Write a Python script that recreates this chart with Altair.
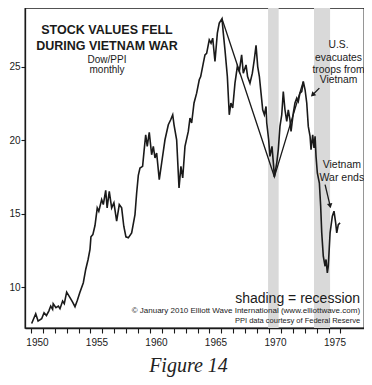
import altair as alt
import pandas as pd

# Dow/PPI monthly ratio
years = [1950.06, 1950.40, 1950.60, 1950.90, 1951.10, 1951.30, 1951.50, 1951.66, 1951.82, 1951.87,
         1952.10, 1952.30, 1952.44, 1952.66, 1952.80, 1953.00, 1953.28, 1953.50, 1953.70, 1953.90,
         1954.10, 1954.40, 1954.60, 1954.80, 1954.96, 1955.04, 1955.20, 1955.38, 1955.57, 1955.70,
         1955.94, 1956.08, 1956.28, 1956.40, 1956.58, 1956.78, 1956.97, 1957.20, 1957.42, 1957.62,
         1957.80, 1957.98, 1958.18, 1958.46, 1958.74, 1958.88, 1959.02, 1959.16, 1959.38, 1959.50,
         1959.64, 1959.77, 1959.94, 1960.14, 1960.28, 1960.42, 1960.56, 1960.78, 1960.98, 1961.26,
         1961.54, 1961.74, 1961.91, 1962.02, 1962.24, 1962.44, 1962.60, 1962.75, 1962.94, 1963.22,
         1963.36, 1963.50, 1963.70, 1963.92, 1964.14, 1964.26, 1964.48, 1964.62, 1964.76, 1964.98,
         1965.13, 1965.27, 1965.46, 1965.66, 1965.82, 1966.05, 1966.16, 1966.30, 1966.50, 1966.66,
         1966.80, 1966.95, 1967.14, 1967.34, 1967.50, 1967.70, 1967.84, 1968.07, 1968.20, 1968.40,
         1968.60, 1968.76, 1968.91, 1969.05, 1969.19, 1969.33, 1969.47, 1969.61, 1969.75, 1969.81,
         1969.97, 1970.08, 1970.25, 1970.39, 1970.45, 1970.65, 1970.78, 1970.92, 1971.07, 1971.20,
         1971.34, 1971.49, 1971.62, 1971.76, 1971.85, 1972.04, 1972.18, 1972.33, 1972.46, 1972.60,
         1972.75, 1972.88, 1973.03, 1973.17, 1973.30, 1973.45, 1973.53, 1973.67, 1973.78, 1973.87,
         1973.95, 1974.06, 1974.23, 1974.34, 1974.43, 1974.56, 1974.71, 1974.79, 1974.90, 1974.98,
         1975.13, 1975.32, 1975.46, 1975.60, 1975.69, 1975.82, 1975.97]
ratio = [7.53, 8.19, 7.69, 7.85, 8.26, 8.07, 8.37, 8.71, 8.49, 8.87,
         8.60, 8.71, 8.53, 9.05, 8.87, 9.66, 9.28, 8.98, 8.67, 9.11,
         9.62, 10.30, 11.20, 11.88, 12.56, 13.42, 13.57, 14.19, 15.39, 15.16,
         15.95, 15.61, 16.58, 15.39, 16.51, 15.39, 15.73, 14.48, 15.61, 15.39,
         14.14, 13.42, 13.35, 13.69, 14.93, 16.40, 17.60, 18.10, 18.21, 19.23,
         20.36, 19.57, 20.52, 19.00, 19.57, 18.78, 19.12, 17.31, 18.44, 20.02,
         21.04, 21.38, 21.72, 21.04, 20.02, 16.74, 18.21, 17.42, 19.57, 20.59,
         21.50, 21.16, 22.52, 23.19, 24.10, 24.32, 25.23, 25.79, 25.90, 26.81,
         26.59, 26.93, 25.34, 27.27, 27.95, 28.25, 27.27, 26.13, 24.32, 21.72,
         22.52, 22.18, 23.87, 25.00, 24.66, 25.79, 24.55, 25.11, 24.32, 23.87,
         24.55, 25.45, 26.44, 25.00, 24.32, 23.19, 22.06, 21.72, 22.28, 21.16,
         20.02, 18.89, 19.57, 18.21, 17.50, 18.44, 19.35, 20.93, 21.72, 23.30,
         22.06, 21.27, 22.06, 21.38, 20.59, 21.84, 22.52, 22.85, 22.62, 23.19,
         23.30, 23.98, 23.42, 22.52, 20.93, 20.25, 19.35, 20.36, 19.46, 20.25,
         18.89, 17.76, 17.08, 15.50, 13.69, 12.10, 11.42, 11.88, 10.97, 11.42,
         13.69, 14.82, 15.16, 14.37, 13.69, 14.25, 14.37]

# Straight-line overlay (1966 peak -> 1970 low -> 1973 peak)
abc_years = [1966.05, 1970.45, 1972.88]
abc_values = [28.25, 17.50, 23.98]

# Recessions
rec_start = [1969.92, 1973.78]
rec_end = [1970.81, 1975.13]

# Axis ticks
x_tick_years = list(range(1950, 1977))
y_tick_values = [10, 15, 20, 25]

# Annotation texts
title_lines = ["STOCK VALUES FELL", "DURING VIETNAM WAR"]
sub_lines = ["Dow/PPI", "monthly"]
us_lines = ["U.S.", "evacuates", "troops from", "Vietnam"]
end_lines = ["Vietnam", "War ends"]
shading_note = "shading = recession"
copyright_note = "\u00a9 January 2010 Elliott Wave International (www.elliottwave.com)"
source_note = "PPI data courtesy of Federal Reserve"
caption = "Figure 14"

FONT = "Liberation Sans"
INK = "#1a1a1a"
W, H = 339, 320

xs = alt.Scale(domain=[1949.50, 1977.98], nice=False, zero=False)
ys = alt.Scale(domain=[7.22, 28.98], nice=False, zero=False)

X_AXIS = alt.Axis(values=x_tick_years, format="d",
                  labelExpr="datum.value % 5 == 0 ? datum.label : ''",
                  labelOffset=6, tickSize=5, labelPadding=4, grid=False, title=None)
Y_AXIS = alt.Axis(values=y_tick_values, tickSize=4, labelPadding=1, grid=False, title=None)


def X(field):
    return alt.X(field, scale=xs, axis=X_AXIS, title=None)


def Y(field):
    return alt.Y(field, scale=ys, axis=Y_AXIS, title=None)


bands = alt.Chart(pd.DataFrame({"s": rec_start, "e": rec_end})).mark_rect(
    color="#d9d9d9"
).encode(
    x=X("s:Q"),
    x2="e:Q",
    y=alt.value(0),
    y2=alt.value(H),
)

line = alt.Chart(pd.DataFrame({"year": years, "ratio": ratio})).mark_line(
    color=INK, strokeWidth=1.6
).encode(
    x=X("year:Q"),
    y=Y("ratio:Q"),
    order="year:Q",
)

abc = alt.Chart(pd.DataFrame({"year": abc_years, "ratio": abc_values})).mark_line(
    color=INK, strokeWidth=1.3
).encode(
    x=X("year:Q"),
    y=Y("ratio:Q"),
    order="year:Q",
)


def text_layer(lines, x, ys_list, size, weight="normal", align="center"):
    df = pd.DataFrame({"t": lines, "x": [x] * len(lines), "y": ys_list})
    return alt.Chart(df).mark_text(
        font=FONT, fontSize=size, fontWeight=weight, align=align,
        baseline="alphabetic", color=INK
    ).encode(
        x=X("x:Q"),
        y=Y("y:Q"),
        text="t:N",
    )


t_title = text_layer(title_lines, 1956.39, [27.22, 26.13], 12.5, weight="bold")
t_sub = text_layer(sub_lines, 1956.39, [25.24, 24.58], 10)
t_us = text_layer(us_lines, 1975.84, [26.25, 25.40, 24.55, 23.87], 10.3)
t_end = text_layer(end_lines, 1976.12, [18.10, 17.19], 10.5)
t_shade = text_layer([shading_note], 1977.65, [8.89], 14, align="right")
t_copy = text_layer([copyright_note], 1977.65, [8.21], 8, align="right")
t_src = text_layer([source_note], 1977.65, [7.53], 7.5, align="right")

# arrows: shaft start/end and head position/angle
arrow_df = pd.DataFrame({
    "x": [1974.23, 1974.71], "y": [23.53, 16.97],
    "x2": [1973.71, 1975.12], "y2": [23.11, 15.58],
    "ang": [225, 168],
})
shafts = alt.Chart(arrow_df).mark_rule(color=INK, strokeWidth=1.3).encode(
    x=X("x:Q"), y=Y("y:Q"),
    x2="x2:Q", y2="y2:Q",
)
heads = alt.Chart(arrow_df).mark_point(
    shape="triangle", filled=True, color=INK, opacity=1, size=30
).encode(
    x=X("x2:Q"), y=Y("y2:Q"),
    angle=alt.Angle("ang:Q", scale=None),
)

chart = alt.layer(
    bands, line, abc, t_title, t_sub, t_us, t_end, t_shade, t_copy, t_src, shafts, heads
).properties(
    width=W, height=H,
    autosize=alt.AutoSizeParams(type="none"),
    padding={"left": 17, "top": 0, "right": 0, "bottom": 49},
    title=alt.TitleParams(caption, orient="bottom", anchor="middle", offset=9, dx=-6,
                          font="Liberation Serif", fontSize=20, fontStyle="italic",
                          fontWeight="normal", color="#222"),
).configure_view(
    stroke=INK, strokeWidth=1.3
).configure_axis(
    labelFont=FONT, labelFontSize=10, labelColor=INK,
    domainColor=INK, domainWidth=1.3, tickColor=INK, tickWidth=1.1,
)

chart.save("out.html", embed_options={"renderer": "svg", "actions": False})
